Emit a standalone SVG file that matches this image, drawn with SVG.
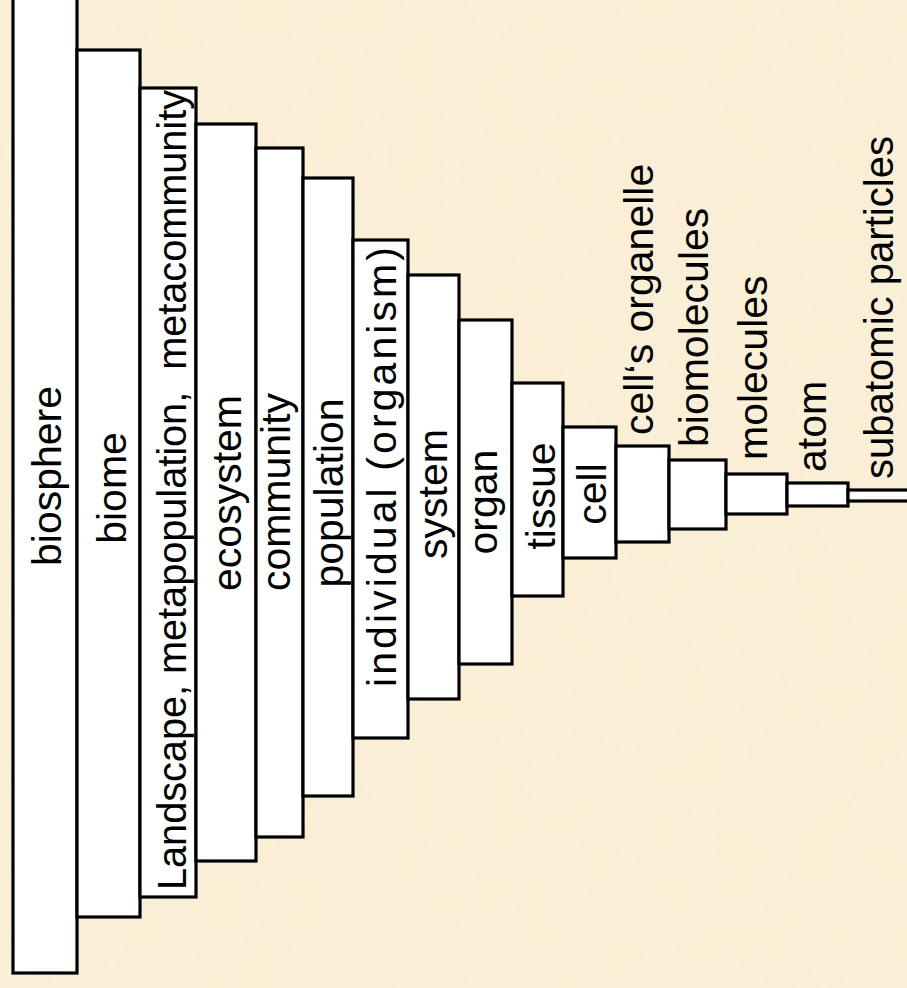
<svg xmlns="http://www.w3.org/2000/svg" width="907" height="988" viewBox="0 0 907 988">
  <defs>
    <filter id="parch" x="0" y="0" width="100%" height="100%">
      <feTurbulence type="fractalNoise" baseFrequency="0.025" numOctaves="3" seed="4" result="n"/>
      <feColorMatrix in="n" type="matrix" values="0 0 0 0 0.96  0 0 0 0 0.89  0 0 0 0 0.74  0 0 0 0.45 -0.12"/>
    </filter>
    <style>
      .box { fill: #ffffff; stroke: #000000; stroke-width: 3.2; }
      .lbl { font-family: "Liberation Sans", Arial, sans-serif; font-size: 41px; fill: #000000; }
      .mid { text-anchor: middle; }
      .start { text-anchor: start; }
    </style>
  </defs>
  <rect x="0" y="0" width="907" height="988" fill="#FAEFD5"/>
  <rect x="0" y="0" width="907" height="988" filter="url(#parch)"/>

  <g id="connectors"></g>

  <g id="biosphere">
    <rect class="box" x="13" y="-5" width="64" height="978"/>
    <text class="lbl mid" transform="translate(61,476) rotate(-90)">biosphere</text>
  </g>
  <g id="biome">
    <rect class="box" x="77" y="50" width="63" height="867"/>
    <text class="lbl mid" transform="translate(126,488) rotate(-90)">biome</text>
  </g>
  <g id="landscape">
    <rect class="box" x="140" y="88" width="56" height="809"/>
    <text class="lbl mid" style="white-space:pre" textLength="800" lengthAdjust="spacingAndGlyphs" transform="translate(186,490) rotate(-90)">Landscape, metapopulation,  metacommunity</text>
  </g>
  <g id="ecosystem">
    <rect class="box" x="196" y="124" width="60" height="737"/>
    <text class="lbl mid" transform="translate(241,493) rotate(-90)">ecosystem</text>
  </g>
  <g id="community">
    <rect class="box" x="256" y="148" width="47" height="689"/>
    <text class="lbl mid" transform="translate(290,492) rotate(-90)">community</text>
  </g>
  <g id="population">
    <rect class="box" x="303" y="178" width="50" height="618"/>
    <text class="lbl mid" transform="translate(343,493) rotate(-90)">population</text>
  </g>
  <g id="individual">
    <rect class="box" x="353" y="240" width="55" height="498"/>
    <text class="lbl mid" textLength="440" lengthAdjust="spacing" transform="translate(396,467) rotate(-90)">individual (organism)</text>
  </g>
  <g id="system">
    <rect class="box" x="408" y="275" width="51" height="424"/>
    <text class="lbl mid" transform="translate(447,494) rotate(-90)">system</text>
  </g>
  <g id="organ">
    <rect class="box" x="459" y="320" width="53" height="344"/>
    <text class="lbl mid" transform="translate(497,502) rotate(-90)">organ</text>
  </g>
  <g id="tissue">
    <rect class="box" x="512" y="383" width="51" height="213"/>
    <text class="lbl mid" transform="translate(555,496) rotate(-90)">tissue</text>
  </g>
  <g id="cell">
    <rect class="box" x="563" y="427" width="53" height="131"/>
    <text class="lbl mid" transform="translate(606,494) rotate(-90)">cell</text>
  </g>
  <g id="organelle">
    <rect class="box" x="616" y="446" width="53" height="96"/>
    <text class="lbl start" transform="translate(653,435) rotate(-90)">cell‘s organelle</text>
  </g>
  <g id="biomolecules">
    <rect class="box" x="669" y="460" width="57" height="69"/>
    <text class="lbl start" transform="translate(708,447) rotate(-90)">biomolecules</text>
  </g>
  <g id="molecules">
    <rect class="box" x="726" y="474" width="61" height="40"/>
    <text class="lbl start" transform="translate(767,460) rotate(-90)">molecules</text>
  </g>
  <g id="atom">
    <rect class="box" x="787" y="483" width="61" height="23"/>
    <text class="lbl start" transform="translate(826,472) rotate(-90)">atom</text>
  </g>
  <g id="subatomic">
    <rect class="box" x="848" y="490" width="70" height="11"/>
    <text class="lbl start" textLength="343" lengthAdjust="spacingAndGlyphs" transform="translate(893,479) rotate(-90)">subatomic particles</text>
  </g>
</svg>
